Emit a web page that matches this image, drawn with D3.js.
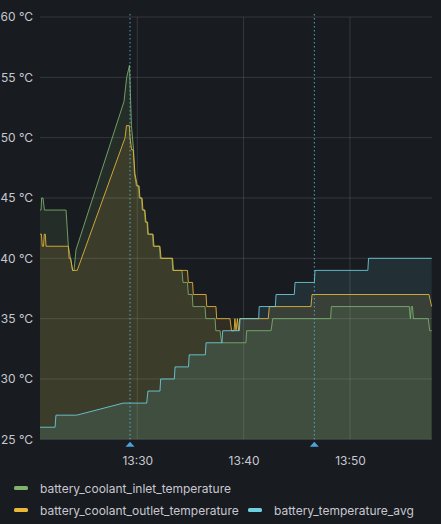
<!DOCTYPE html>
<html>
<head>
<meta charset="utf-8">
<script src="https://cdn.jsdelivr.net/npm/d3@7"></script>
<style>
	html, body {margin: 0; padding: 0; background: #181b1f;}
	svg {display: block; font-family: Inter, "Noto Sans", sans-serif;}
</style>
</head>
<body>
<svg width="441" height="524"></svg>
<script>
'use strict';
// series data, [time, °C]
let inletTemp = [
	["13:20:51", 44], ["13:20:57", 44], ["13:21:00", 45], ["13:21:08", 45], ["13:21:16", 44],
	["13:23:18", 44], ["13:23:31", 41], ["13:23:43", 40], ["13:23:55", 39], ["13:24:03", 39],
	["13:24:14", 40.7], ["13:28:45", 53], ["13:29:00", 55], ["13:29:16", 56], ["13:29:27", 51],
	["13:29:39", 49], ["13:29:44", 47], ["13:29:55", 46], ["13:30:07", 46], ["13:30:11", 45],
	["13:30:24", 45], ["13:30:28", 44], ["13:30:41", 44], ["13:30:45", 43], ["13:30:55", 43],
	["13:30:59", 42], ["13:31:26", 42], ["13:31:30", 41], ["13:32:05", 41], ["13:32:10", 40],
	["13:33:16", 40], ["13:33:20", 39], ["13:34:12", 39], ["13:34:18", 38], ["13:34:43", 38],
	["13:34:48", 37], ["13:35:10", 37], ["13:35:14", 36], ["13:36:22", 36], ["13:36:27", 35],
	["13:37:19", 35], ["13:37:23", 34], ["13:37:47", 34], ["13:37:56", 33], ["13:40:13", 33],
	["13:40:17", 34], ["13:42:35", 34], ["13:42:44", 35], ["13:48:11", 35], ["13:48:15", 36],
	["13:55:35", 36], ["13:55:41", 35], ["13:55:46", 36], ["13:55:53", 36], ["13:55:58", 35],
	["13:57:22", 35], ["13:57:30", 34], ["13:57:41", 34]]

let outletTemp = [
	["13:20:51", 42], ["13:20:59", 42], ["13:21:04", 41], ["13:21:11", 41], ["13:21:15", 42],
	["13:21:21", 42], ["13:21:25", 41], ["13:23:31", 41], ["13:23:35", 40], ["13:23:44", 40],
	["13:23:55", 39], ["13:24:21", 39], ["13:28:51", 50], ["13:28:59", 51], ["13:29:15", 51],
	["13:29:19", 50], ["13:29:28", 49], ["13:29:37", 49], ["13:29:47", 47], ["13:30:00", 46],
	["13:30:10", 46], ["13:30:15", 45], ["13:30:27", 45], ["13:30:32", 44], ["13:30:43", 44],
	["13:30:49", 43], ["13:30:58", 43], ["13:31:02", 42], ["13:31:29", 42], ["13:31:34", 41],
	["13:32:08", 41], ["13:32:14", 40], ["13:33:19", 40], ["13:33:24", 39], ["13:34:43", 39],
	["13:34:48", 38], ["13:35:12", 38], ["13:35:16", 37], ["13:36:28", 37], ["13:36:32", 36],
	["13:37:24", 36], ["13:37:28", 35], ["13:38:43", 35], ["13:38:52", 34], ["13:39:06", 34],
	["13:39:11", 35], ["13:39:17", 34], ["13:39:25", 35], ["13:39:31", 34], ["13:39:38", 35],
	["13:42:19", 35], ["13:42:25", 36], ["13:46:20", 36], ["13:46:26", 37], ["13:57:26", 37],
	["13:57:41", 36]]

let avgTemp = [
	["13:20:51", 26], ["13:22:16", 26], ["13:22:21", 27], ["13:24:18", 27], ["13:28:41", 28],
	["13:30:53", 28], ["13:31:00", 29], ["13:32:08", 29], ["13:32:12", 30], ["13:33:29", 30],
	["13:33:33", 31], ["13:34:49", 31], ["13:34:53", 32], ["13:36:24", 32], ["13:36:28", 33],
	["13:37:58", 33], ["13:38:02", 34], ["13:39:36", 34], ["13:39:40", 35], ["13:41:25", 35],
	["13:41:28", 36], ["13:42:59", 36], ["13:43:03", 37], ["13:44:46", 37], ["13:44:50", 38],
	["13:46:39", 38], ["13:46:43", 39], ["13:51:41", 39], ["13:51:45", 40], ["13:57:41", 40]]

let seriesNames = ["battery_coolant_inlet_temperature", "battery_coolant_outlet_temperature", "battery_temperature_avg"]
let seriesColors = ["#7eb26d", "#eab839", "#6ed0e0"]
let annotationTimes = ["13:29:19", "13:46:39"]
let timeRange = ["13:20:51", "13:57:43"]
let tempRange = [25, 60]

let eSvg = d3.select("svg")
let parse = d3.timeParse("%H:%M:%S")
let dLeft = 40, dRight = 432, dTop = 17, dBottom = 439.3

let sX = d3.scaleTime().domain(timeRange.map(parse)).range([dLeft, dRight])
let sY = d3.scaleLinear().domain(tempRange).range([dBottom, dTop])

let tSeries = [inletTemp, outletTemp, avgTemp].map(s => s.map(d => ({t: parse(d[0]), v: d[1]})))

// grid
let gridCol = "rgba(204,204,220,0.16)"
eSvg.append("g")
	.selectAll("line")
	.data(sY.ticks(7))
	.enter().append("line")
	.attr("x1", dLeft).attr("x2", dRight)
	.attr("y1", d => sY(d)).attr("y2", d => sY(d))
	.attr("stroke", gridCol)

let xTicks = sX.ticks(d3.timeMinute.every(10))
eSvg.append("g")
	.selectAll("line")
	.data(xTicks)
	.enter().append("line")
	.attr("x1", d => sX(d)).attr("x2", d => sX(d))
	.attr("y1", dTop).attr("y2", dBottom)
	.attr("stroke", gridCol)

// axes, text only
eSvg.append("g")
	.attr("transform", `translate(${dLeft - 7},0)`)
	.call(d3.axisLeft(sY).ticks(7).tickSize(0).tickPadding(0).tickFormat(d => d + " °C"))
eSvg.append("g")
	.attr("transform", `translate(0,${dBottom})`)
	.call(d3.axisBottom(sX).ticks(d3.timeMinute.every(10)).tickSize(0).tickPadding(17).tickFormat(d3.timeFormat("%H:%M")))
eSvg.selectAll(".domain").remove()
eSvg.selectAll(".tick text")
	.attr("fill", "#c7c7d1")
	.attr("font-size", 12)
	.attr("font-family", "Inter, 'Noto Sans', sans-serif")

// fills then lines
let area = d3.area().x(d => sX(d.t)).y0(dBottom).y1(d => sY(d.v))
let line = d3.line().x(d => sX(d.t)).y(d => sY(d.v))

eSvg.append("g")
	.selectAll("path")
	.data(tSeries)
	.enter().append("path")
	.attr("d", area)
	.attr("fill", (d, i) => seriesColors[i])
	.attr("fill-opacity", 0.12)

eSvg.append("g")
	.selectAll("path")
	.data(tSeries)
	.enter().append("path")
	.attr("d", line)
	.attr("fill", "none")
	.attr("stroke", (d, i) => seriesColors[i])
	.attr("stroke-opacity", 0.85)
	.attr("stroke-width", 1)

// annotations
let tAnn = annotationTimes.map(parse)
eSvg.append("g")
	.selectAll("line")
	.data(tAnn)
	.enter().append("line")
	.attr("x1", d => sX(d)).attr("x2", d => sX(d))
	.attr("y1", 14).attr("y2", dBottom)
	.attr("stroke", "#5fb8da")
	.attr("stroke-opacity", 0.85)
	.attr("stroke-dasharray", "1.5,2.5")
eSvg.append("g")
	.selectAll("path")
	.data(tAnn)
	.enter().append("path")
	.attr("d", d => {let x = sX(d); return `M${x - 4.5},${dBottom + 7.5}L${x},${dBottom + 2.5}L${x + 4.5},${dBottom + 7.5}Z`})
	.attr("fill", "#4aa3dc")

// legend
let legendPos = [[14, 488], [14, 510], [248, 510]]
let eLeg = eSvg.append("g")
	.selectAll("g")
	.data(seriesNames)
	.enter().append("g")
	.attr("transform", (d, i) => `translate(${legendPos[i][0]},${legendPos[i][1]})`)
eLeg.append("rect")
	.attr("x", 0).attr("y", -2).attr("width", 14).attr("height", 4).attr("rx", 1.5)
	.attr("fill", (d, i) => seriesColors[i])
eLeg.append("text")
	.attr("x", 26).attr("y", 4.5)
	.attr("fill", "#c7c7d1")
	.attr("font-size", 12)
	.text(d => d)
</script>
</body>
</html>
